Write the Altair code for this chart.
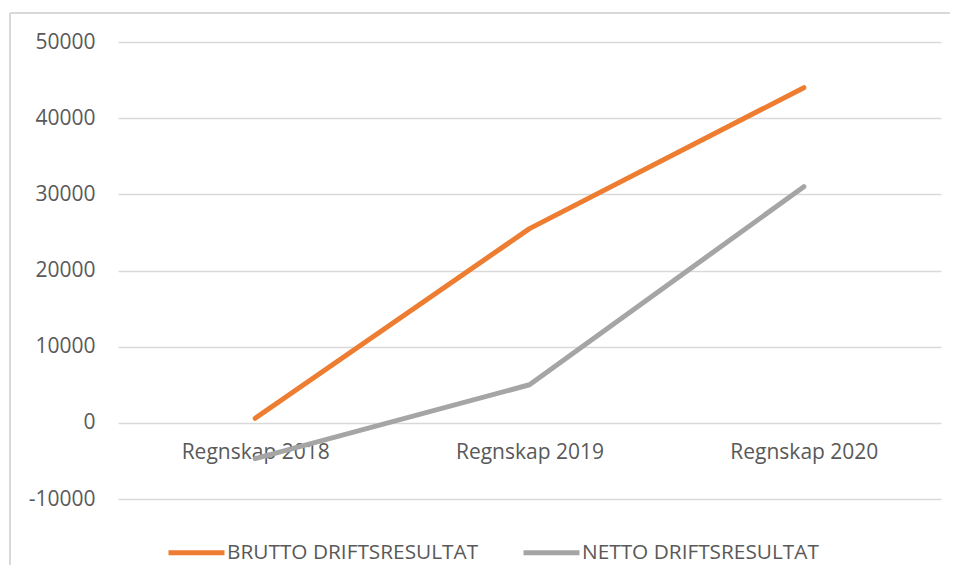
import altair as alt
import pandas as pd

categories = ["Regnskap 2018", "Regnskap 2019", "Regnskap 2020"]
brutto = [600, 25500, 44000]
netto = [-4700, 5000, 31000]
series_names = ["BRUTTO DRIFTSRESULTAT", "NETTO DRIFTSRESULTAT"]
series_colors = ["#ED7D31", "#A5A5A5"]
y_ticks = [-10000, 0, 10000, 20000, 30000, 40000, 50000]

rows = []
for c, v in zip(categories, brutto):
    rows.append({"kategori": c, "serie": series_names[0], "verdi": v})
for c, v in zip(categories, netto):
    rows.append({"kategori": c, "serie": series_names[1], "verdi": v})
df = pd.DataFrame(rows)

W, H = 823, 457
FONT = "Open Sans"
TXT = "#595959"
GRID = "#D9D9D9"
PAD_L, PAD_T, PAD_R, PAD_B = 110, 34, 9, 66

lines = alt.Chart(df).mark_line(strokeWidth=5, strokeCap="round", strokeJoin="round").encode(
    x=alt.X("kategori:N", sort=categories,
            scale=alt.Scale(type="point", padding=0.5),
            axis=alt.Axis(title=None, labelAngle=0, ticks=False, tickSize=0, domain=False,
                          grid=False, offset=-H / 6, labelPadding=19,
                          labelFont=FONT, labelFontSize=21, labelColor=TXT)),
    y=alt.Y("verdi:Q",
            scale=alt.Scale(domain=[-10000, 50000], nice=False, zero=False),
            axis=alt.Axis(title=None, values=y_ticks, labelExpr="toString(datum.value)",
                          ticks=False, tickSize=0,
                          domain=False, grid=True, gridColor=GRID, gridWidth=1.3,
                          labelPadding=23, labelFont=FONT, labelFontSize=21, labelColor=TXT)),
    color=alt.Color("serie:N", sort=series_names,
                    scale=alt.Scale(domain=series_names, range=series_colors),
                    legend=alt.Legend(title=None, orient="none", direction="horizontal",
                                      legendX=48, legendY=480, padding=0,
                                      symbolType="stroke", symbolSize=3136, symbolStrokeWidth=5,
                                      labelFont=FONT, labelFontSize=20.8, labelColor=TXT,
                                      labelLimit=1000, labelOffset=0, columnPadding=34)),
)

frame_left = alt.Chart(df).mark_rule(color=GRID, strokeWidth=1.5).encode(
    x=alt.value(-108), y=alt.value(-29), y2=alt.value(H + PAD_B))
frame_top = alt.Chart(df).mark_rule(color=GRID, strokeWidth=1.5).encode(
    x=alt.value(-108), x2=alt.value(W + PAD_R), y=alt.value(-29))

chart = alt.layer(frame_left, frame_top, lines).properties(
    width=W, height=H,
    autosize=alt.AutoSizeParams(type="none"),
    padding={"left": PAD_L, "top": PAD_T, "right": PAD_R, "bottom": PAD_B},
).configure(view=alt.ViewConfig(stroke=None))

chart.save("out.html", embed_options={"renderer": "svg", "actions": False})
